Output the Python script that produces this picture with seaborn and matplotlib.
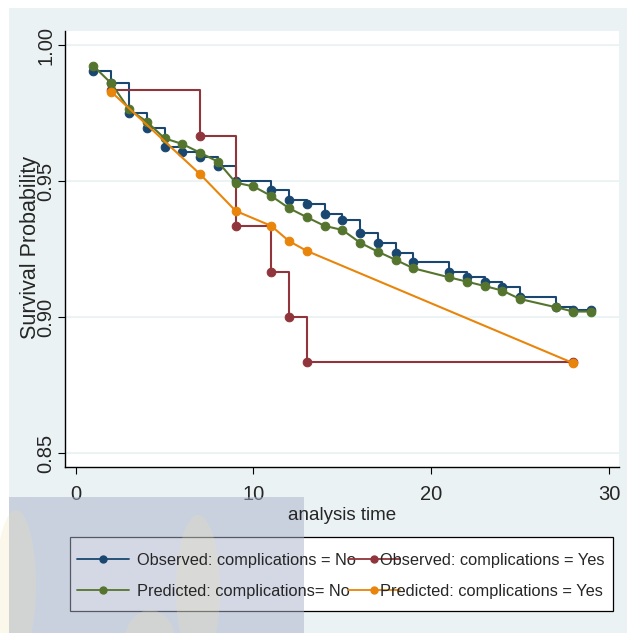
import numpy as np
import pandas as pd
import matplotlib
matplotlib.use("Agg")
import matplotlib.pyplot as plt
from matplotlib.lines import Line2D
from matplotlib.patches import Rectangle, Ellipse
import seaborn as sns

# ---- data -------------------------------------------------------------
obs_no_time = [1, 2, 3, 4, 5, 6, 7, 8, 9, 11, 12, 13, 14, 15, 16, 17, 18, 19,
               21, 22, 23, 24, 25, 27, 28, 29]
obs_no_surv = [0.9906, 0.9859, 0.9751, 0.9694, 0.9624, 0.9608, 0.9587, 0.9555,
               0.9501, 0.9467, 0.9430, 0.9414, 0.9378, 0.9357, 0.9308, 0.9271,
               0.9236, 0.9201, 0.9164, 0.9148, 0.9127, 0.9109, 0.9075, 0.9037,
               0.9024, 0.9024]

obs_yes_time = [2, 7, 9, 11, 12, 13, 28]
obs_yes_surv = [0.9833, 0.9667, 0.9333, 0.9167, 0.9000, 0.8833, 0.8833]

pred_no_time = [1, 2, 3, 4, 5, 6, 7, 8, 9, 10, 11, 12, 13, 14, 15, 16, 17, 18,
                19, 21, 22, 23, 24, 25, 27, 28, 29]
pred_no_surv = [0.9923, 0.9859, 0.9764, 0.9718, 0.9657, 0.9636, 0.9604, 0.9571,
                0.9494, 0.9480, 0.9445, 0.9400, 0.9367, 0.9335, 0.9320, 0.9273,
                0.9240, 0.9210, 0.9179, 0.9146, 0.9130, 0.9114, 0.9097, 0.9066,
                0.9036, 0.9020, 0.9020]

pred_yes_time = [2, 7, 9, 11, 12, 13, 28]
pred_yes_surv = [0.9828, 0.9525, 0.9390, 0.9335, 0.9279, 0.9243, 0.8830]

x_ticks = [0, 10, 20, 30]
x_tick_labels = ["0", "10", "20", "30"]
y_ticks = [0.85, 0.90, 0.95, 1.00]
y_tick_labels = ["0.85", "0.90", "0.95", "1.00"]

series_labels = ["Observed: complications = No",
                 "Observed: complications = Yes",
                 "Predicted: complications= No",
                 "Predicted: complications = Yes"]

# ---- style ------------------------------------------------------------
sns.set_style("white")
plt.rcParams["font.family"] = ["Liberation Sans", "DejaVu Sans"]

c_navy = "#1a476f"
c_maroon = "#90353b"
c_green = "#55752f"
c_orange = "#e8850a"
bg = "#eaf2f3"

W, H = 627, 633
fig = plt.figure(figsize=(W / 100, H / 100), dpi=100, facecolor="white")


def fx(px):
    return px / W


def fy(py):
    return 1 - py / H


# light outer panel
fig.add_artist(Rectangle((fx(9), 0), 1 - fx(9), fy(8), transform=fig.transFigure,
                         facecolor=bg, edgecolor="none", zorder=-1))

ax = fig.add_axes([fx(65), fy(467), fx(619) - fx(65), fy(31) - fy(467)])
ax.set_facecolor("white")

df_obs_no = pd.DataFrame({"t": obs_no_time, "s": obs_no_surv})
df_obs_yes = pd.DataFrame({"t": obs_yes_time, "s": obs_yes_surv})
df_pred_no = pd.DataFrame({"t": pred_no_time, "s": pred_no_surv})
df_pred_yes = pd.DataFrame({"t": pred_yes_time, "s": pred_yes_surv})

common = dict(x="t", y="s", ax=ax, sort=False, estimator=None, marker="o",
              markersize=6.2, linewidth=1.5, legend=False)

sns.lineplot(data=df_obs_no, color=c_navy, drawstyle="steps-post",
             markeredgecolor=c_navy, zorder=3, **common)
sns.lineplot(data=df_obs_yes, color=c_maroon, drawstyle="steps-post",
             markeredgecolor=c_maroon, zorder=4, **common)
sns.lineplot(data=df_pred_no, color=c_green,
             markeredgecolor=c_green, zorder=5, **common)
sns.lineplot(data=df_pred_yes, color=c_orange,
             markeredgecolor=c_orange, zorder=6, **common)

ax.set_xlim(-0.60, 30.56)
ax.set_ylim(0.84485, 1.00515)
ax.set_xticks(x_ticks)
ax.set_xticklabels(x_tick_labels, fontsize=14.5)
ax.set_yticks(y_ticks)
ax.set_yticklabels(y_tick_labels, fontsize=14.5, rotation=90, va="center")
ax.set_xlabel("")
ax.set_ylabel("")

ax.yaxis.grid(True, color=bg, linewidth=1.3, zorder=0)
ax.xaxis.grid(False)
ax.set_axisbelow(True)
for side in ("top", "right"):
    ax.spines[side].set_visible(False)
for side in ("left", "bottom"):
    ax.spines[side].set_color("black")
    ax.spines[side].set_linewidth(1.0)
ax.tick_params(axis="both", direction="out", length=5, width=0.8, color="black",
               left=True, bottom=True)
ax.tick_params(axis="x", pad=8)
ax.tick_params(axis="y", pad=2)

fig.text(fx(342), fy(515), "analysis time", ha="center", va="center", fontsize=13.5)
fig.text(fx(31), fy(247.5), "Survival Probability", ha="center", va="center",
         rotation=90, fontsize=15.5)

# ---- legend -----------------------------------------------------------
fig.add_artist(Rectangle((fx(70), fy(611)), fx(613) - fx(70), fy(537) - fy(611),
                         transform=fig.transFigure, facecolor="white",
                         edgecolor="black", linewidth=0.9, zorder=1))

# faint emblem in the lower-left corner (kept beneath the legend entries)
fig.add_artist(Rectangle((fx(9), 0), fx(304) - fx(9), fy(497), transform=fig.transFigure,
                         facecolor="#aab2cd", edgecolor="none", alpha=0.5, zorder=1.5))
for cx, cy, w, h in [(16, 585, 40, 150), (198, 590, 44, 150), (150, 640, 50, 60)]:
    fig.add_artist(Ellipse((fx(cx), fy(cy)), fx(w), h / H, transform=fig.transFigure,
                           facecolor="#efe3a6", edgecolor="none", alpha=0.22, zorder=1.6))


def key(color):
    return Line2D([], [], color=color, marker="o", markersize=5, linewidth=1.3,
                  markeredgecolor=color)


fs_leg = 11.8
leg_kw = dict(loc="center left", frameon=False, fontsize=fs_leg, borderpad=0,
              borderaxespad=0, handlelength=3.17, labelspacing=1.0, numpoints=1,
              bbox_transform=fig.transFigure)
leg1 = fig.legend([key(c_navy), key(c_green)], [series_labels[0], series_labels[2]],
                  bbox_to_anchor=(fx(77), fy(576)), handletextpad=0.49, **leg_kw)
leg2 = fig.legend([key(c_maroon), key(c_orange)], [series_labels[1], series_labels[3]],
                  bbox_to_anchor=(fx(348), fy(576)), handletextpad=-1.22, **leg_kw)
leg1.set_zorder(2)
leg2.set_zorder(2)

fig.savefig("out.png", dpi=100, facecolor=fig.get_facecolor())
